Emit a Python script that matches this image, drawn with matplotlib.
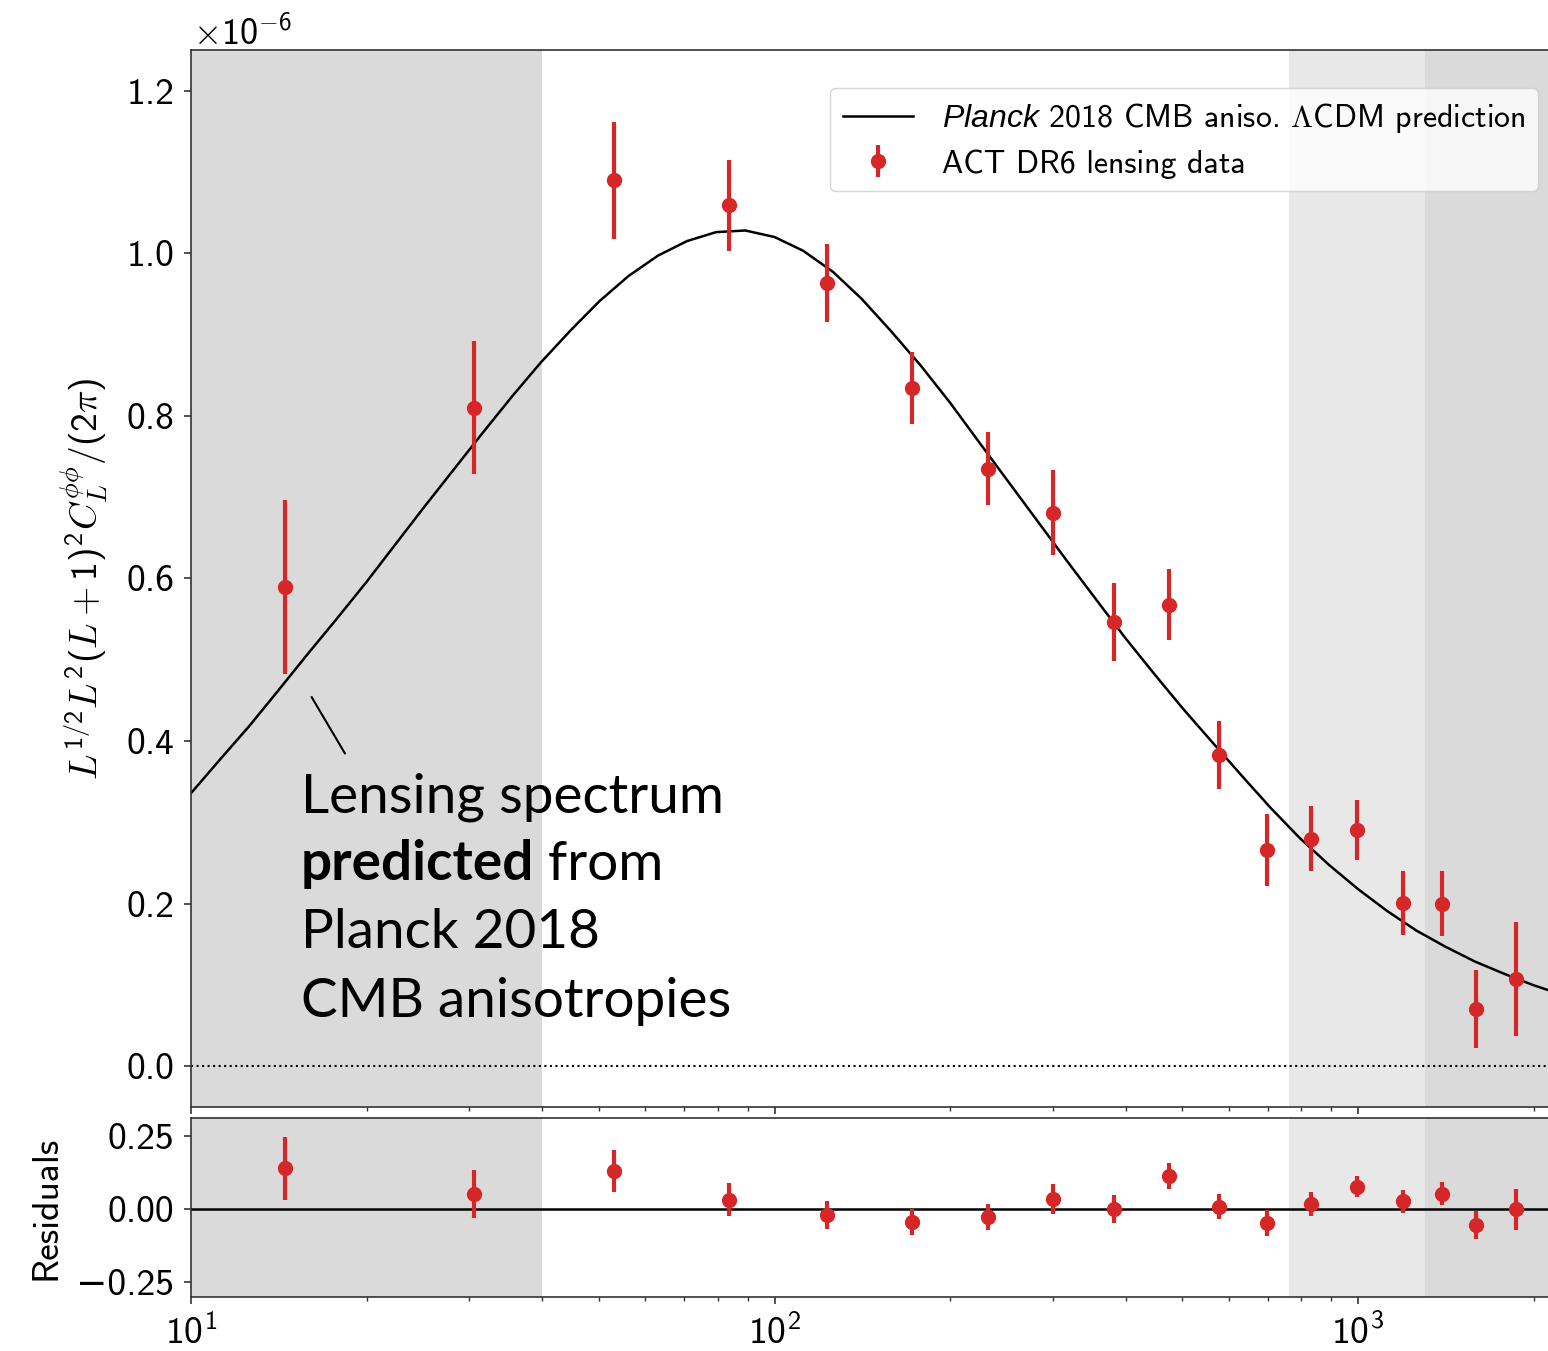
import numpy as np
import matplotlib
matplotlib.use('Agg')
import matplotlib.pyplot as plt

# Computer Modern Sans look for axes text, CM italic for math variables
plt.rcParams['font.family'] = ['cmss10', 'DejaVu Sans']
plt.rcParams['mathtext.fontset'] = 'custom'
plt.rcParams['mathtext.rm'] = 'cmss10'
plt.rcParams['mathtext.it'] = 'cmmi10'
plt.rcParams['mathtext.sf'] = 'Liberation Sans:italic'
plt.rcParams['mathtext.bf'] = 'DejaVu Sans:bold'
plt.rcParams['axes.formatter.use_mathtext'] = False
plt.rcParams['axes.unicode_minus'] = True

# lensing bandpowers, in units of 1e-6
L_data = [14.5, 30.5, 53, 83.5, 123, 172, 232, 300, 382, 475,
          578, 699, 831, 996, 1194, 1393, 1592, 1865]
cl_data = [0.590, 0.810, 1.090, 1.059, 0.964, 0.834, 0.735, 0.681, 0.547, 0.568,
           0.383, 0.266, 0.280, 0.291, 0.201, 0.200, 0.070, 0.107]
cl_err = [0.107, 0.082, 0.072, 0.056, 0.048, 0.044, 0.045, 0.052, 0.048, 0.044,
          0.042, 0.044, 0.040, 0.037, 0.039, 0.040, 0.048, 0.070]
resid = [0.139, 0.050, 0.129, 0.031, -0.020, -0.044, -0.027, 0.033, -0.001, 0.112,
         0.008, -0.049, 0.016, 0.076, 0.026, 0.052, -0.055, -0.001]

# Planck 2018 LCDM prediction, in units of 1e-6
L_theory = [10.0, 11.2, 12.6, 14.1, 15.8, 17.8, 20.0, 22.4, 25.1, 28.2,
            31.6, 35.5, 39.8, 44.7, 50.1, 56.2, 63.1, 70.8, 79.4, 89.1,
            100, 112, 126, 141, 158, 178, 200, 224, 251, 282,
            316, 355, 398, 447, 501, 562, 631, 708, 794, 891,
            1000, 1122, 1259, 1413, 1585, 1778, 1995, 2239]
cl_theory = [0.336, 0.377, 0.419, 0.462, 0.506, 0.551, 0.596, 0.642, 0.688, 0.734,
             0.779, 0.824, 0.866, 0.905, 0.941, 0.972, 0.997, 1.015, 1.026, 1.028,
             1.020, 1.003, 0.977, 0.944, 0.905, 0.862, 0.816, 0.768, 0.720, 0.671,
             0.623, 0.575, 0.528, 0.483, 0.440, 0.399, 0.358, 0.318, 0.281, 0.248,
             0.218, 0.191, 0.167, 0.147, 0.129, 0.114, 0.100, 0.088]

scale = 1e-6
red = '#d62728'
spine_col = '#333333'
fs_tick = 27

fig = plt.figure(figsize=(15.48, 13.51), dpi=100)
ax = fig.add_axes([0.1234, 0.1806, 0.8792, 0.7824])
rax = fig.add_axes([0.1234, 0.04, 0.8792, 0.1325], sharex=ax)

for a in (ax, rax):
    a.axvspan(1, 40, color='#dadada', lw=0, zorder=0)
    a.axvspan(763, 1300, color='#e8e8e8', lw=0, zorder=0)
    a.axvspan(1300, 1e4, color='#dadada', lw=0, zorder=0)
    for s in a.spines.values():
        s.set_color(spine_col)
        s.set_linewidth(1.2)
    a.tick_params(which='major', length=5, width=1.2, labelsize=fs_tick,
                  color=spine_col, pad=7)
    a.tick_params(which='minor', length=3, width=1.0, color=spine_col)

# main panel
ax.axhline(0, color='k', ls=':', lw=1.5, zorder=1)
ax.plot(np.array(L_theory), np.array(cl_theory) * scale, color='k', lw=1.8,
        label=r'$\mathsf{Planck}$ 2018 CMB aniso. $\Lambda$CDM prediction', zorder=2)
ax.errorbar(L_data, np.array(cl_data) * scale, yerr=np.array(cl_err) * scale,
            fmt='o', color=red, ms=10, elinewidth=3, capsize=0,
            label='ACT DR6 lensing data', zorder=3)
ax.set_xscale('log')
ax.set_xlim(10, 2150)
ax.set_ylim(-0.05e-6, 1.25e-6)
ax.set_yticks(np.arange(0, 1.21, 0.2) * scale)
ax.set_yticklabels(['%.1f' % v for v in np.arange(0, 1.21, 0.2)])
ax.tick_params(axis='x', which='both', labelbottom=False)
ax.set_ylabel(r'$L^{1/2}L^2(L+1)^2C_L^{\phi\phi}/(2\pi)$', fontsize=27, labelpad=12)
fig.text(193 / 1548, 1 - 45 / 1351, r'$\times10^{-6}$', fontsize=26, va='baseline')

leg = ax.legend(loc='upper right', bbox_to_anchor=(0.9935, 0.9349),
                bbox_transform=fig.transFigure, borderaxespad=0, fontsize=23,
                handlelength=2.2, handletextpad=0.9, framealpha=0.8,
                edgecolor='#cccccc', borderpad=0.4, labelspacing=0.45)

# annotation pointing at the prediction curve
ax.plot([16.1, 18.35], [0.454e-6, 0.385e-6], color='k', lw=1.5, zorder=2)
fs_note = 39.5
fx = 301 / 1548
lines_y = [1 - 813 / 1351, 1 - 880 / 1351, 1 - 948 / 1351, 1 - 1017 / 1351]
fig.text(fx, lines_y[0], 'Lensing spectrum', family='Lato', fontsize=fs_note, va='baseline')
t_bold = fig.text(fx, lines_y[1], 'predicted', family='Lato', fontweight='bold',
                  fontsize=fs_note, va='baseline')
fig.canvas.draw()
bb = t_bold.get_window_extent(fig.canvas.get_renderer())
fig.text(bb.x1 / fig.bbox.width, lines_y[1], ' from', family='Lato',
         fontsize=fs_note, va='baseline')
fig.text(fx, lines_y[2], 'Planck 2018', family='Lato', fontsize=fs_note, va='baseline')
fig.text(fx, lines_y[3], 'CMB anisotropies', family='Lato', fontsize=fs_note, va='baseline')

# residual panel
rax.axhline(0, color='k', lw=1.8, zorder=1)
rax.errorbar(L_data, resid, yerr=cl_err, fmt='o', color=red, ms=10,
             elinewidth=3, capsize=0, zorder=3)
rax.set_ylim(-0.30, 0.31)
rax.set_yticks([-0.25, 0.0, 0.25])
rax.set_yticklabels(['\u22120.25', '0.00', '0.25'])
rax.set_ylabel('Residuals', fontsize=27, labelpad=10)

fig.savefig('out.png', dpi=100)
